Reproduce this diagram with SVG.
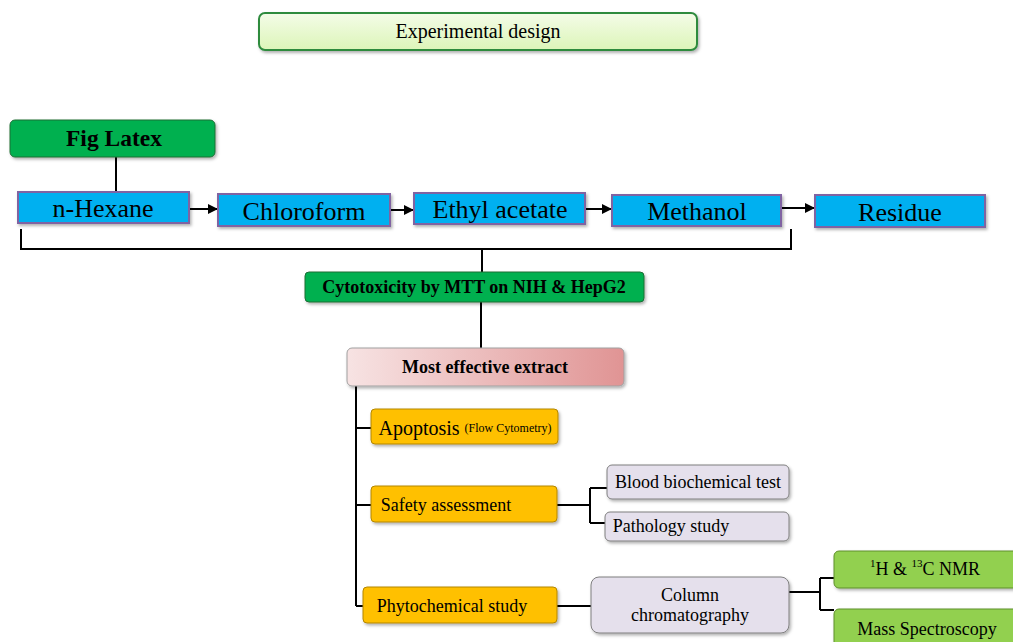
<svg xmlns="http://www.w3.org/2000/svg" width="1013" height="642" viewBox="0 0 1013 642">
<defs>
<style>
text{font-family:"Liberation Serif","Times New Roman",serif;fill:#000;text-anchor:middle;dominant-baseline:central}
.blue{fill:#00b0f0;stroke:#8064a2;stroke-width:2}
.dg{fill:#00b050;stroke:#1f6e35;stroke-width:1}
.or{fill:#ffc000;stroke:#b38600;stroke-width:1}
.lav{fill:#e5e0ec;stroke:#7f7f7f;stroke-width:1}
.lg{fill:#92d050;stroke:#5e8f2a;stroke-width:1}
.ln{fill:none;stroke:#000;stroke-width:2}
.b{font-weight:bold}
.t18{font-size:18px}
.t26{font-size:26px}
</style>
<linearGradient id="gTop" x1="0" y1="0" x2="0" y2="1"><stop offset="0" stop-color="#f4fce8"/><stop offset="1" stop-color="#dcf5b8"/></linearGradient>
<linearGradient id="gPink" x1="0" y1="0" x2="1" y2="0"><stop offset="0" stop-color="#f7e3e3"/><stop offset="1" stop-color="#e09494"/></linearGradient>
<filter id="sh" x="-5%" y="-10%" width="115%" height="140%"><feDropShadow dx="1.5" dy="2" stdDeviation="1.5" flood-color="#000" flood-opacity="0.3"/></filter>
<marker id="ar" markerWidth="10" markerHeight="10" refX="9" refY="5" orient="auto" markerUnits="userSpaceOnUse"><path d="M0,0 L10,5 L0,10 z" fill="#000"/></marker>
</defs>
<rect width="1013" height="642" fill="#fff"/>
<g id="connectors">
<line class="ln" x1="116" y1="157" x2="116" y2="192"/>
<line class="ln" x1="189" y1="209" x2="217" y2="209" marker-end="url(#ar)"/>
<line class="ln" x1="390" y1="210" x2="413" y2="210" marker-end="url(#ar)"/>
<line class="ln" x1="585" y1="209" x2="611" y2="209" marker-end="url(#ar)"/>
<line class="ln" x1="781" y1="208" x2="814" y2="208" marker-end="url(#ar)"/>
<path class="ln" d="M21,229 V249 H791 V229"/>
<line class="ln" x1="482" y1="249" x2="482" y2="272"/>
<line class="ln" x1="481" y1="302" x2="481" y2="348"/>
<path class="ln" d="M356,386 V606"/>
<line class="ln" x1="356" y1="428" x2="371" y2="428"/>
<line class="ln" x1="356" y1="505" x2="371" y2="505"/>
<line class="ln" x1="356" y1="606" x2="363" y2="606"/>
<path class="ln" d="M557,505 H590 M590,488 V523 M590,488 H607 M590,523 H605"/>
<line class="ln" x1="557" y1="606" x2="591" y2="606"/>
<path class="ln" d="M789,592 H820 M820,578 V610 M820,578 H834 M820,610 H834"/>
</g>
<g id="n-title"><rect x="259" y="13" width="438" height="37" rx="6" fill="url(#gTop)" stroke="#2e8b3e" stroke-width="2" filter="url(#sh)"/><text x="478" y="31" font-size="20">Experimental design</text></g>
<g id="n-fig"><rect class="dg" x="10" y="120" width="205" height="37" rx="5" filter="url(#sh)"/><text class="b" x="114" y="138" font-size="23.5">Fig Latex</text></g>
<g id="n-hexane"><rect class="blue" x="18" y="192" width="171" height="31" filter="url(#sh)"/><text class="t26" x="103" y="208">n-Hexane</text></g>
<g id="n-chloroform"><rect class="blue" x="218" y="194" width="172" height="32" filter="url(#sh)"/><text class="t26" x="304" y="211">Chloroform</text></g>
<g id="n-ethyl"><rect class="blue" x="414" y="193" width="171" height="31" filter="url(#sh)"/><text class="t26" x="500" y="209">Ethyl acetate</text></g>
<g id="n-methanol"><rect class="blue" x="612" y="195" width="169" height="31" filter="url(#sh)"/><text class="t26" x="697" y="211">Methanol</text></g>
<g id="n-residue"><rect class="blue" x="815" y="195" width="170" height="32" filter="url(#sh)"/><text class="t26" x="900" y="212">Residue</text></g>
<g id="n-cyto"><rect class="dg" x="305" y="272" width="339" height="30" rx="4" filter="url(#sh)"/><text class="b" x="474" y="287" font-size="18">Cytotoxicity by MTT on NIH &amp; HepG2</text></g>
<g id="n-most"><rect x="347" y="348" width="277" height="38" rx="5" fill="url(#gPink)" stroke="#a0a0a0" stroke-width="1" filter="url(#sh)"/><text class="b" x="485" y="367" font-size="18">Most effective extract</text></g>
<g id="n-apop"><rect class="or" x="371" y="409" width="187" height="35" rx="4" filter="url(#sh)"/><text x="465" y="428" font-size="20"><tspan>Apoptosis </tspan><tspan font-size="12">(Flow Cytometry)</tspan></text></g>
<g id="n-safety"><rect class="or" x="371" y="486" width="186" height="36" rx="4" filter="url(#sh)"/><text class="t18" x="446" y="505">Safety assessment</text></g>
<g id="n-blood"><rect class="lav" x="607" y="465" width="182" height="34" rx="5" filter="url(#sh)"/><text class="t18" x="698" y="482">Blood biochemical test</text></g>
<g id="n-path"><rect class="lav" x="605" y="512" width="184" height="29" rx="5" filter="url(#sh)"/><text class="t18" x="671" y="526">Pathology study</text></g>
<g id="n-phyto"><rect class="or" x="363" y="587" width="194" height="36" rx="4" filter="url(#sh)"/><text class="t18" x="452" y="606">Phytochemical study</text></g>
<g id="n-column"><rect class="lav" x="591" y="577" width="198" height="56" rx="8" filter="url(#sh)"/><text class="t18" x="690" y="595">Column</text><text class="t18" x="690" y="615">chromatography</text></g>
<g id="n-nmr"><rect class="lg" x="834" y="551" width="185" height="37" rx="5" filter="url(#sh)"/><text class="t18" x="925" y="569"><tspan font-size="11" dy="-6">1</tspan><tspan dy="6">H &amp; </tspan><tspan font-size="11" dy="-6">13</tspan><tspan dy="6">C NMR</tspan></text></g>
<g id="n-mass"><rect class="lg" x="834" y="609" width="185" height="40" rx="5" filter="url(#sh)"/><text class="t18" x="927" y="629">Mass Spectroscopy</text></g>
</svg>
